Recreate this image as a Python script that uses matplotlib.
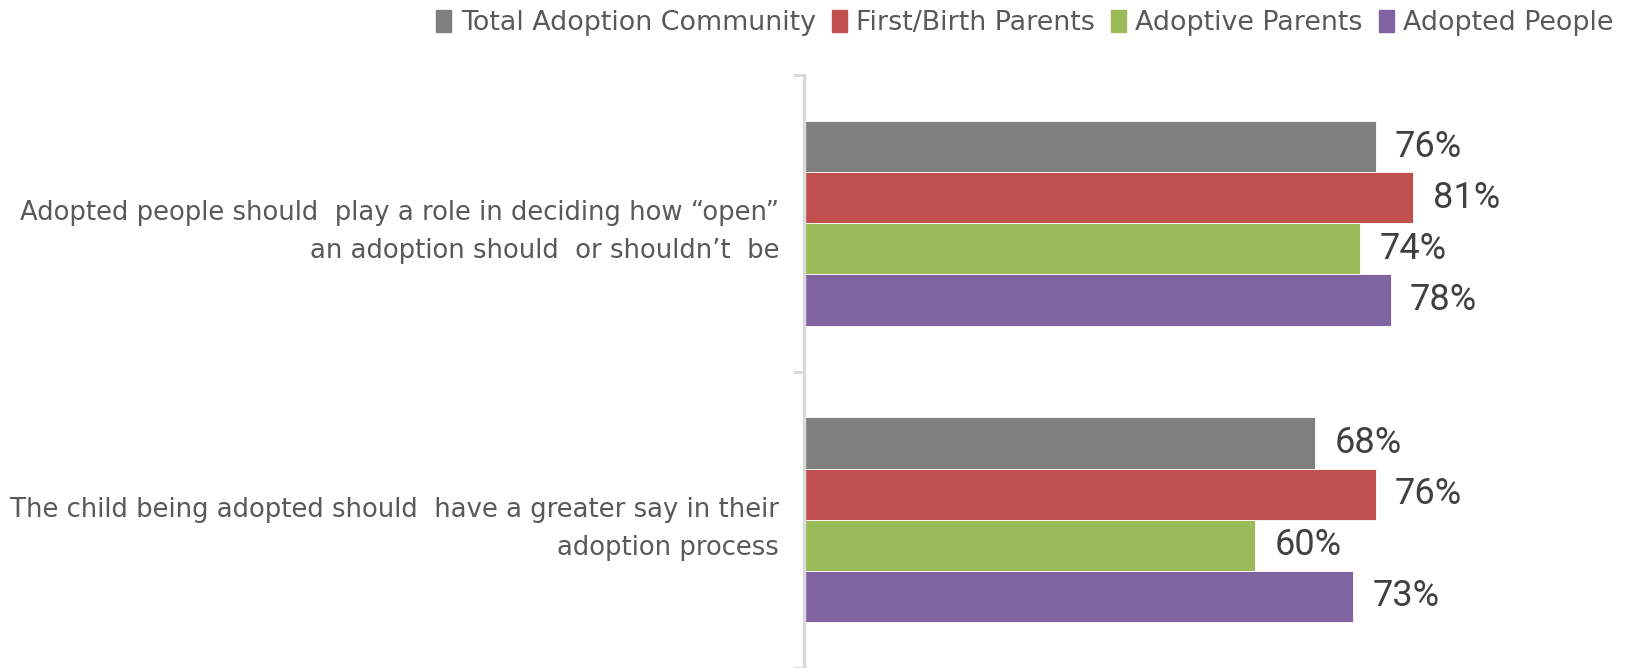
import matplotlib.pyplot as plt
from matplotlib.patches import Patch
import numpy as np

plt.rcParams['font.family'] = ['DejaVu Sans']

# survey statements and agreement shares by group
statements = [
    "Adopted people should  play a role in deciding how \u201copen\u201d\nan adoption should  or shouldn\u2019t  be",
    "The child being adopted should  have a greater say in their\nadoption process",
]
groups = ["Total Adoption Community", "First/Birth Parents", "Adoptive Parents", "Adopted People"]
total = [76, 68]
birth = [81, 76]
adoptive = [74, 60]
adopted = [78, 73]
colors = ["#7f7f7f", "#c0504d", "#9bbb59", "#8064a2"]

series = [total, birth, adoptive, adopted]

fig = plt.figure(figsize=(16.25, 6.68), dpi=100)
ax = fig.add_axes([804 / 1625, 0.0, (1556 - 804) / 1625, 1 - 75 / 668])

y = np.arange(len(statements))
h = 0.1725
for i, (vals, c) in enumerate(zip(series, colors)):
    pos = y + (i - 1.5) * h
    ax.barh(pos, vals, height=h, color=c, edgecolor='white', linewidth=0.6)
    for p, v in zip(pos, vals):
        ax.text(v + 2.6, p, f"{v}%", va='center', ha='left', fontsize=26,
                color='#404040', family='Roboto')

ax.set_xlim(0, 100)
ax.set_ylim(1.5, -0.5)
ax.set_xticks([])
ax.set_yticks(y)
ax.set_yticklabels(statements, fontsize=18.6, color='#595959', linespacing=1.6)
ax.set_yticks([-0.5, 0.5, 1.5], minor=True)
ax.tick_params(axis='y', which='major', length=0, pad=18)
ax.tick_params(axis='y', which='minor', length=8, width=2, color='#d9d9d9')
for s in ['top', 'right', 'bottom']:
    ax.spines[s].set_visible(False)
ax.spines['left'].set_color('#d9d9d9')
ax.spines['left'].set_linewidth(2.5)

handles = [Patch(color=c, label=g) for c, g in zip(colors, groups)]
leg = fig.legend(handles=handles, loc='upper right', bbox_to_anchor=(1.008, 1.022), ncol=4,
                 frameon=False, fontsize=19.4, handlelength=0.55, handleheight=0.9,
                 handletextpad=0.35, columnspacing=0.6)
for t in leg.get_texts():
    t.set_color('#595959')

fig.savefig('out.png', dpi=100)
